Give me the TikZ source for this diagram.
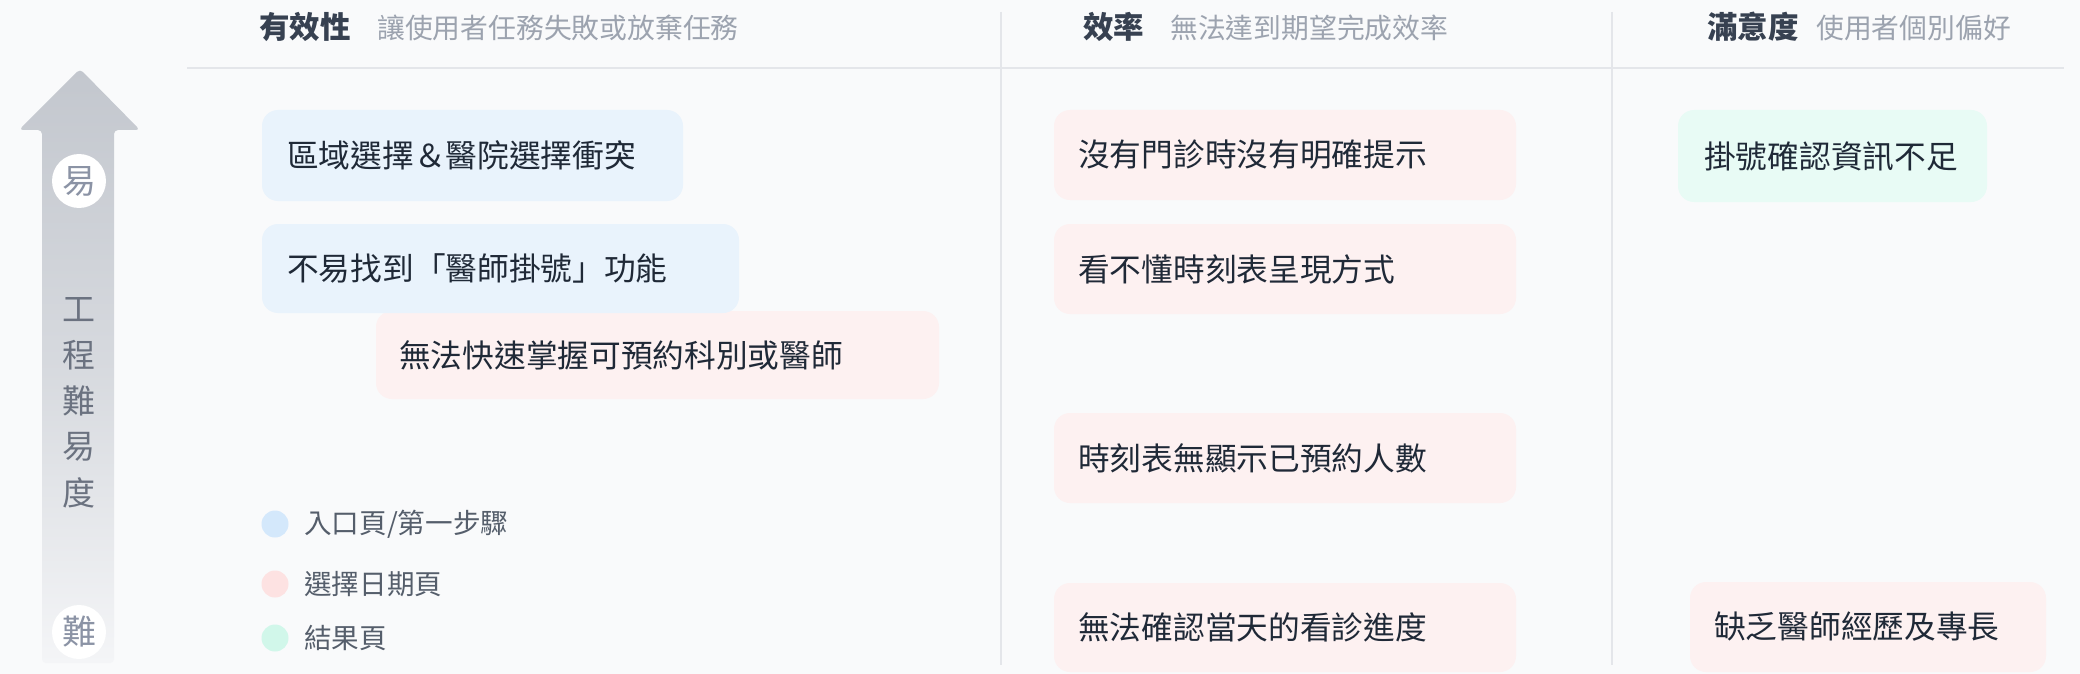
\documentclass[tikz,border=0pt]{standalone}
\usepackage{fontspec}
\setmainfont{Noto Sans CJK TC}
\definecolor{bg}{HTML}{F9FAFB}
\definecolor{sep}{HTML}{E4E6EA}
\definecolor{hdr}{HTML}{374151}
\definecolor{sub}{HTML}{9CA3AF}
\definecolor{txt}{HTML}{1F2937}
\definecolor{axis}{HTML}{6B7280}
\definecolor{ease}{HTML}{8B93A5}
\definecolor{arrtop}{HTML}{C3C7CE}
\definecolor{arrbot}{HTML}{F4F5F7}
\definecolor{cblue}{HTML}{E9F3FC}
\definecolor{cpink}{HTML}{FDF1F1}
\definecolor{cmint}{HTML}{E8FBF5}
\definecolor{dblue}{HTML}{D4E8FB}
\definecolor{dpink}{HTML}{FDE2E2}
\definecolor{dmint}{HTML}{D1F7EA}
\tikzset{
  cardbox/.style={rectangle, rounded corners=16pt, anchor=north west, inner sep=0pt, outer sep=0pt},
  cardtext/.style={anchor=west, inner sep=0pt, text=txt, font=\fontsize{31.7}{36}\selectfont},
  hdrtext/.style={anchor=west, inner sep=0pt, text=hdr, font=\fontsize{30.5}{36}\selectfont\bfseries},
  subtext/.style={anchor=west, inner sep=0pt, text=sub, font=\fontsize{27.8}{34}\selectfont},
  vtext/.style={inner sep=0pt, text=axis, font=\fontsize{33}{36}\selectfont},
  endcirc/.style={circle, fill=white, minimum size=54pt, inner sep=0pt, text=ease, font=\fontsize{34}{36}\selectfont},
  legdot/.style={circle, minimum size=27pt, inner sep=0pt},
  legtext/.style={anchor=west, inner sep=0pt, text=hdr!85, font=\fontsize{27.6}{32}\selectfont},
  sepline/.style={draw=sep, line width=2pt},
}
\begin{document}
\begin{tikzpicture}[x=1pt,y=-1pt]
\useasboundingbox (0,0) rectangle (2080,674);
\fill[bg] (0,0) rectangle (2080,674);

% separators
\coordinate (h1) at (187,68);
\coordinate (h2) at (2064,68);
\draw[sepline] (h1) -- (h2);
\coordinate (s1t) at (1001,12);
\coordinate (s1b) at (1001,665);
\coordinate (s2t) at (1612,12);
\coordinate (s2b) at (1612,665);
\draw[sepline] (s1t) -- (s1b);
\draw[sepline] (s2t) -- (s2b);

% headers
\node[hdrtext] (H1) at (259,27) {有效性};
\node[subtext] (S1) at (377,28) {讓使用者任務失敗或放棄任務};
\node[hdrtext] (H2) at (1083,27) {效率};
\node[subtext] (S2) at (1170,28) {無法達到期望完成效率};
\node[hdrtext] (H3) at (1707,27) {滿意度};
\node[subtext] (S3) at (1816,28) {使用者個別偏好};

% axis arrow
\shade[top color=arrtop, bottom color=arrbot, middle color=arrtop!60!arrbot, rounded corners=4pt]
  (80,69) -- (140,130) -- (114,130) -- (114,663) -- (42,663) -- (42,130) -- (19,130) -- cycle;
\node[endcirc] (easy) at (79,181) {易};
\node[endcirc] (hard) at (79,632) {難};
\node[vtext] (v1) at (79,310) {工};
\node[vtext] (v2) at (79,355) {程};
\node[vtext] (v3) at (79,401) {難};
\node[vtext] (v4) at (79,447) {易};
\node[vtext] (v5) at (79,493) {度};

% legend
\node[legdot, fill=dblue] (d1) at (275,524) {};
\node[legtext] (l1) at (304,524) {入口頁/第一步驟};
\node[legdot, fill=dpink] (d2) at (275,584) {};
\node[legtext] (l2) at (304,584) {選擇日期頁};
\node[legdot, fill=dmint] (d3) at (275,638) {};
\node[legtext] (l3) at (304,638) {結果頁};

% column 1 cards
\node[cardbox, fill=cblue, minimum width=421pt, minimum height=91pt] (c1) at (262,110) {};
\node[cardtext] (t1) at ([xshift=25pt]c1.west) {區域選擇＆醫院選擇衝突};
\node[cardbox, fill=cpink, minimum width=563pt, minimum height=88pt] (c3) at (376,311) {};
\node[cardtext] (t3) at ([xshift=23pt]c3.west) {無法快速掌握可預約科別或醫師};
\node[cardbox, fill=cblue, minimum width=477pt, minimum height=89pt] (c2) at (262,224) {};
\node[cardtext] (t2) at ([xshift=25pt]c2.west) {不易找到「醫師掛號」功能};

% column 2 cards
\node[cardbox, fill=cpink, minimum width=462pt, minimum height=90pt] (c4) at (1054,110) {};
\node[cardtext] (t4) at ([xshift=24pt]c4.west) {沒有門診時沒有明確提示};
\node[cardbox, fill=cpink, minimum width=462pt, minimum height=90pt] (c5) at (1054,224) {};
\node[cardtext] (t5) at ([xshift=24pt]c5.west) {看不懂時刻表呈現方式};
\node[cardbox, fill=cpink, minimum width=462pt, minimum height=90pt] (c6) at (1054,413) {};
\node[cardtext] (t6) at ([xshift=24pt]c6.west) {時刻表無顯示已預約人數};
\node[cardbox, fill=cpink, minimum width=462pt, minimum height=89pt] (c7) at (1054,583) {};
\node[cardtext] (t7) at ([xshift=24pt]c7.west) {無法確認當天的看診進度};

% column 3 cards
\node[cardbox, fill=cmint, minimum width=309pt, minimum height=92pt] (c8) at (1678,110) {};
\node[cardtext] (t8) at ([xshift=26pt]c8.west) {掛號確認資訊不足};
\node[cardbox, fill=cpink, minimum width=356pt, minimum height=90pt] (c9) at (1690,582) {};
\node[cardtext] (t9) at ([xshift=24pt]c9.west) {缺乏醫師經歷及專長};
\end{tikzpicture}
\end{document}
